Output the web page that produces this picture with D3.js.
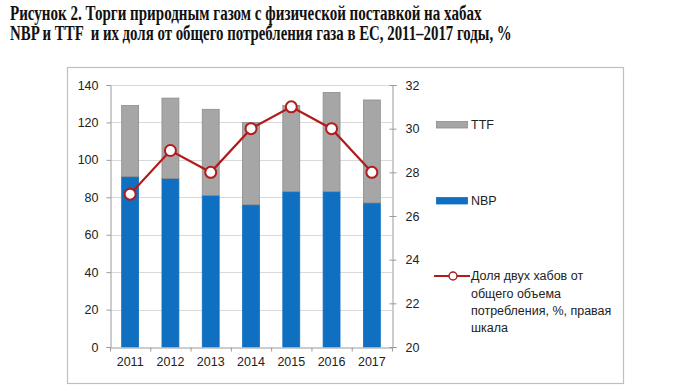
<!DOCTYPE html>
<html>
<head>
<meta charset="utf-8">
<script src="https://cdn.jsdelivr.net/npm/d3@7"></script>
<style>
  html, body { margin: 0; padding: 0; background: #fff; }
  svg { display: block; }
</style>
</head>
<body>
<svg id="chart" width="680" height="391"></svg>
<script>
const years = ["2011", "2012", "2013", "2014", "2015", "2016", "2017"];
const nbp = [91, 90, 81, 76, 83, 83, 77];
const ttf = [38, 43, 46, 44, 46, 53, 55];
const share = [27, 29, 28, 30, 31, 30, 28];
const leftTicks = [0, 20, 40, 60, 80, 100, 120, 140];
const rightTicks = [20, 22, 24, 26, 28, 30, 32];
const titleLines = [
  "Рисунок 2. Торги природным газом с физической поставкой на хабах",
  "NBP и TTF  и их доля от общего потребления газа в ЕС, 2011–2017 годы, %"
];
const legendLabels = ["TTF", "NBP"];
const lineLegend = ["Доля двух хабов от", "общего объема", "потребления, %, правая", "шкала"];

const svg = d3.select("#chart");
const font = "'Liberation Sans', Arial, sans-serif";

// Title (horizontally condensed via scale transform)
const titleW = [472, 502];
titleLines.forEach((t, i) => {
  const g = svg.append("g");
  const txt = g.append("text")
    .attr("x", 0).attr("y", 0)
    .attr("font-family", "'Liberation Serif', 'Times New Roman', serif")
    .attr("font-weight", "bold")
    .attr("font-size", 20)
    .attr("fill", "#111")
    .style("white-space", "pre")
    .text(t);
  const natural = txt.node().getComputedTextLength();
  const sx = titleW[i] / natural;
  g.attr("transform", `translate(10,${19.5 + i * 20.5}) scale(${sx},1)`);
});

// Frame
svg.append("rect")
  .attr("x", 67.5).attr("y", 67.5).attr("width", 556).attr("height", 316)
  .attr("fill", "none").attr("stroke", "#bfbfbf").attr("stroke-width", 1.2);

const L = 110, R = 392, T = 85, B = 347;
const x = d3.scaleBand().domain(years).range([L, R]).paddingInner(0.58).paddingOuter(0.29);
const xb = d3.scaleBand().domain(years).range([L, R]);
const yL = d3.scaleLinear().domain([0, 140]).range([B, T]);
const yR = d3.scaleLinear().domain([20, 32]).range([B, T]);

// Gridlines
svg.append("g").selectAll("line").data(leftTicks.filter(d => d > 0)).join("line")
  .attr("x1", L).attr("x2", R)
  .attr("y1", d => Math.round(yL(d)) + 0.5).attr("y2", d => Math.round(yL(d)) + 0.5)
  .attr("stroke", "#d9d9d9").attr("stroke-width", 1);

// Bars
const stackData = years.map((y, i) => ({ year: y, NBP: nbp[i], TTF: ttf[i] }));
const stack = d3.stack().keys(["NBP", "TTF"])(stackData);
const colors = { NBP: "#0f6fc0", TTF: "#a6a6a6" };
const strokes = { NBP: "#0f6fc0", TTF: "#8c8c8c" };
svg.append("g").selectAll("g").data(stack).join("g")
  .attr("fill", d => colors[d.key]).attr("stroke", d => strokes[d.key]).attr("stroke-width", 0.8)
  .selectAll("rect").data(d => d).join("rect")
  .attr("x", d => x(d.data.year))
  .attr("width", x.bandwidth())
  .attr("y", d => yL(d[1]))
  .attr("height", d => yL(d[0]) - yL(d[1]));

// Left axis
const axL = svg.append("g").attr("transform", `translate(${L + 0.5},0)`)
  .call(d3.axisLeft(yL).tickValues(leftTicks).tickSize(4).tickPadding(8));
axL.select(".domain").attr("stroke", "#9a9a9a");
axL.selectAll(".tick line").attr("stroke", "#9a9a9a");
axL.selectAll("text").attr("font-family", font).attr("font-size", 12.5).attr("fill", "#222");

// Right axis
const axR = svg.append("g").attr("transform", `translate(${R + 0.5},0)`)
  .call(d3.axisRight(yR).tickValues(rightTicks).tickSize(4).tickPadding(9));
axR.select(".domain").attr("stroke", "#9a9a9a");
axR.selectAll(".tick line").attr("stroke", "#9a9a9a").attr("x1", -3);
axR.selectAll("text").attr("font-family", font).attr("font-size", 12.5).attr("fill", "#222");

// Bottom axis
const axB = svg.append("g").attr("transform", `translate(0,${B + 0.5})`)
  .call(d3.axisBottom(xb).tickSize(0).tickPadding(10));
axB.select(".domain").attr("stroke", "#9a9a9a");
axB.selectAll("text").attr("font-family", font).attr("font-size", 12.5).attr("fill", "#222");
const bounds = years.map(y => xb(y)).concat([R]);
axB.selectAll(".btick").data(bounds).join("line").attr("class", "btick")
  .attr("x1", d => d + 0.5).attr("x2", d => d + 0.5).attr("y1", 0).attr("y2", 4)
  .attr("stroke", "#9a9a9a");

// Line
const lineColor = "#b31b1b";
const cx = i => x(years[i]) + x.bandwidth() / 2;
svg.append("path")
  .datum(share)
  .attr("fill", "none").attr("stroke", lineColor).attr("stroke-width", 2.2)
  .attr("d", d3.line().x((d, i) => cx(i)).y(d => yR(d)));
svg.append("g").selectAll("circle").data(share).join("circle")
  .attr("cx", (d, i) => cx(i)).attr("cy", d => yR(d)).attr("r", 5.5)
  .attr("fill", "#fff").attr("stroke", lineColor).attr("stroke-width", 2);

// Legend
const lg = svg.append("g");
const swY = [121, 197];
["TTF", "NBP"].forEach((k, i) => {
  lg.append("rect").attr("x", 436.5).attr("y", swY[i] + 0.5).attr("width", 31).attr("height", 6.5)
    .attr("fill", colors[k]).attr("stroke", strokes[k]).attr("stroke-width", 0.8);
  lg.append("text").attr("x", 471).attr("y", swY[i] + 3.5).attr("dy", "0.35em")
    .attr("font-family", font).attr("font-size", 12.5).attr("fill", "#222").text(legendLabels[i]);
});
lg.append("line").attr("x1", 434).attr("x2", 470).attr("y1", 276).attr("y2", 276)
  .attr("stroke", lineColor).attr("stroke-width", 2);
lg.append("circle").attr("cx", 453).attr("cy", 276).attr("r", 4)
  .attr("fill", "#fff").attr("stroke", lineColor).attr("stroke-width", 1.5);
lineLegend.forEach((t, i) => {
  lg.append("text").attr("x", 471).attr("y", 276 + i * 17.3).attr("dy", "0.35em")
    .attr("font-family", font).attr("font-size", 12.5).attr("fill", "#222").text(t);
});
</script>
</body>
</html>
